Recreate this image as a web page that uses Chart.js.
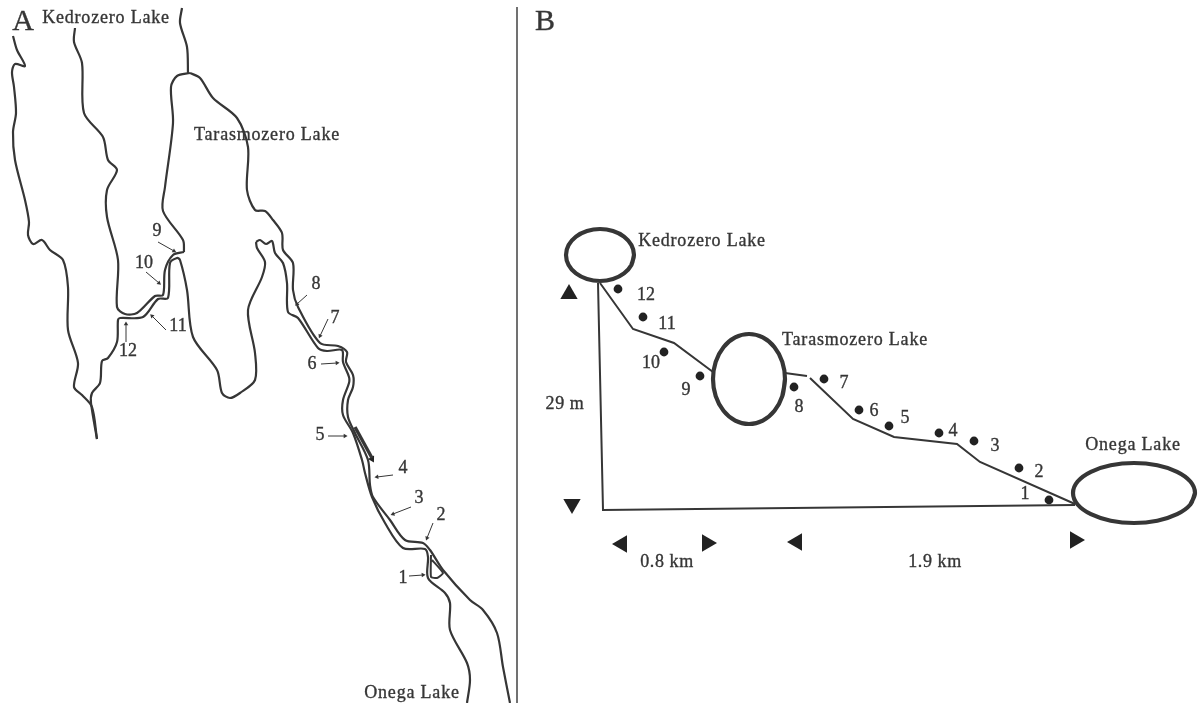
<!DOCTYPE html>
<html>
<head>
<meta charset="utf-8">
<title>Kedrozero - Onega</title>
<script src="https://cdn.jsdelivr.net/npm/chart.js@4/dist/chart.umd.min.js"></script>
<style>
  html, body { margin: 0; padding: 0; background: #fff; }
  canvas { display: block; }
</style>
</head>
<body>
<canvas id="map" width="1200" height="703"></canvas>
<script>
// all points are [x, y] in the 1200 x 703 picture units of the two hidden axes

// panel A: river banks and lake shores
const farLeftBank = [[13,36],[17,50],[25,66],[15,64],[12,72],[14,87],[16,113],[13,132],[15,160],[25,200],[29,222],[28,235],[33,244],[42,240],[50,250],[63,260],[68,287],[68,330],[78,363],[74,387],[82,395],[92,407],[97,439]];
const kedroBank = [[75,28],[74,42],[82,63],[84,113],[103,137],[108,160],[117,170],[107,190],[107,217],[118,260],[117,307],[125,314],[137,313],[155,296],[163,295],[165,270],[173,255],[184,252]];
const inletTop = [[182,8],[180,23],[187,47],[188,73]];
const taraWest = [[190,73],[177,76],[171,87],[173,123],[165,187],[163,211],[183,240],[184,252]];
const taraEast = [[190,73],[200,78],[213,98],[237,118],[248,147],[247,190],[255,210],[265,211],[273,220],[282,233],[283,250],[293,263],[293,290],[298,307],[320,343],[338,346],[347,352],[346,362],[353,375],[353,387],[348,400],[348,417],[355,433],[368,460],[370,485],[373,497],[390,520],[405,540],[423,543],[430,550],[443,570],[470,600],[483,610],[497,633],[503,667],[510,703]];
const riverInner = [[256,242],[260,240],[266,244],[272,241],[275,253],[283,263],[287,283],[288,312],[298,318],[318,348],[327,351],[342,350],[343,362],[349,377],[349,383],[343,400],[343,415],[353,433],[362,460],[365,473],[372,497],[385,523],[403,548],[425,549],[428,557],[428,578],[445,593],[450,603],[450,630],[467,663],[470,680],[467,703]];
const lobeShore = [[256,242],[257,248],[265,262],[262,277],[248,310],[255,353],[255,380],[240,393],[230,398],[222,393],[217,370],[193,337],[187,290],[180,260],[177,258],[170,263],[168,298],[158,299],[143,317],[120,318],[118,320],[117,342],[108,358],[102,361],[100,383],[92,393],[91,403],[97,439]];
const mouthLoop = [[431,555],[431,577],[437,578],[443,573],[432,560]];
const flowShaft = [[355,427],[372,458]];
const mapDivider = [[517,7],[517,703]];

// panel A: station arrows, tail then head
const stationArrows = [
  [[158,242],[174,251]], [[146,272],[159,283]], [[166,330],[152,316]], [[126,342],[126,324]],
  [[307,295],[297,304]], [[328,319],[320,336]], [[321,364],[337,363]], [[328,436],[345,436]],
  [[393,475],[377,477]], [[411,507],[393,514]], [[433,523],[427,538]], [[409,576],[423,575]]
];

// panel B: lakes, profile, stations
const lakeKedrozero = [[634,255],[631.4,264.9],[624,273.4],[613,279],[600,281],[587,279],[576,273.4],[568.6,264.9],[566,255],[568.6,245.1],[576,236.6],[587,231],[600,229],[613,231],[624,236.6],[631.4,245.1],[634,255],[631.4,264.9]];
const lakeTarasmozero = [[785,379],[782.3,396.2],[774.5,410.8],[762.8,420.6],[749,424],[735.2,420.6],[723.5,410.8],[715.7,396.2],[713,379],[715.7,361.8],[723.5,347.2],[735.2,337.4],[749,334],[762.8,337.4],[774.5,347.2],[782.3,361.8],[785,379],[782.3,396.2]];
const lakeOnega = [[1195,493],[1190.4,504.5],[1177.1,514.2],[1157.3,520.7],[1134,523],[1110.7,520.7],[1090.9,514.2],[1077.6,504.5],[1073,493],[1077.6,481.5],[1090.9,471.8],[1110.7,465.3],[1134,463],[1157.3,465.3],[1177.1,471.8],[1190.4,481.5],[1195,493],[1190.4,504.5]];
const baseLine = [[598,283],[603,510],[1075,505]];
const profileUpper = [[600,283],[633,329],[674,343],[713,372]];
const profileMiddle = [[785,373],[807,376]];
const profileLower = [[810,378],[853,419],[894,437],[957,444],[980,462],[1075,504]];
const stationDots = [[1049,500],[1019,468],[974,441],[939,433],[889,426],[859,410],[824,379],[794,387],[700,376],[664,352],[643,317],[618,289]];
const scaleMarkers = [[569,294],[572,504],[622,544],[707,543],[797,542],[1075,540]];
const scaleMarkerTurns = [0,180,270,90,270,90];

// texts
const panelLetters = [['A',23,22],['B',545,22]];
const lakeNames = [
  ['Kedrozero Lake',106,18],['Tarasmozero Lake',267,135],['Onega Lake',412,693],
  ['Kedrozero Lake',702,241],['Tarasmozero Lake',855,340],['Onega Lake',1133,445]
];
const distanceLabels = [['29 m',565,404],['0.8 km',667,562],['1.9 km',935,562]];
const stationLabelsA = [['1',403,578],['2',441,515],['3',419,498],['4',403,468],['5',320,435],['6',312,364],['7',335,318],['8',316,284],['9',157,231],['10',144,263],['11',178,326],['12',128,351]];
const stationLabelsB = [['1',1025,494],['2',1039,472],['3',995,446],['4',953,431],['5',905,418],['6',874,411],['7',844,383],['8',799,407],['9',686,390],['10',651,363],['11',667,324],['12',646,295]];

const INK = '#363636';
const toPts = arr => arr.map(p => ({ x: p[0], y: p[1] }));

function lineSet(arr, width, tension) {
  return {
    data: toPts(arr),
    showLine: true,
    borderColor: INK,
    borderWidth: width,
    tension: tension,
    pointRadius: 0,
    fill: false
  };
}

const datasets = [];
[farLeftBank, kedroBank, inletTop, taraWest, taraEast, riverInner, lobeShore].forEach(a => {
  datasets.push(lineSet(a, 2.2, 0.3));
});
datasets.push(lineSet(mouthLoop, 2, 0.15));
datasets.push(lineSet(flowShaft, 3.4, 0));
datasets.push(lineSet(mapDivider, 1.4, 0));
[lakeKedrozero, lakeTarasmozero, lakeOnega].forEach(a => datasets.push(lineSet(a, 4.2, 0.33)));
[baseLine, profileUpper, profileMiddle, profileLower].forEach(a => datasets.push(lineSet(a, 2, 0)));

stationArrows.forEach(a => {
  const turn = Math.atan2(a[1][0] - a[0][0], a[0][1] - a[1][1]) * 180 / Math.PI;
  datasets.push({
    data: toPts(a),
    showLine: true,
    borderColor: INK,
    borderWidth: 1,
    pointRadius: [0, 2.6],
    pointStyle: 'triangle',
    pointRotation: [0, turn],
    pointBackgroundColor: INK,
    pointBorderColor: INK,
    pointBorderWidth: 0
  });
});

// flow arrow head
datasets.push({
  data: toPts([[372,459]]),
  pointStyle: 'triangle',
  pointRadius: 4,
  pointRotation: 151,
  pointBackgroundColor: '#222',
  pointBorderWidth: 0
});

datasets.push({
  data: toPts(stationDots),
  pointStyle: 'circle',
  pointRadius: 4.4,
  pointBackgroundColor: '#222',
  pointBorderWidth: 0
});

datasets.push({
  data: toPts(scaleMarkers),
  pointStyle: 'triangle',
  pointRadius: 10,
  pointRotation: scaleMarkerTurns,
  pointBackgroundColor: '#222',
  pointBorderWidth: 0
});

// Chart.js has no free text, so labels go through the same scales here
const mapLabels = {
  id: 'mapLabels',
  afterDatasetsDraw(chart) {
    const { ctx, scales } = chart;
    const put = (rows, font, spacing) => {
      ctx.font = font;
      ctx.letterSpacing = spacing;
      rows.forEach(r => {
        const x = scales.x.getPixelForValue(r[1]);
        const y = scales.y.getPixelForValue(r[2]);
        ctx.fillText(r[0], x, y);
        ctx.strokeText(r[0], x, y); // the scan has heavier type
      });
    };
    ctx.save();
    ctx.fillStyle = INK;
    ctx.strokeStyle = INK;
    ctx.lineWidth = 0.35;
    ctx.textAlign = 'center';
    ctx.textBaseline = 'middle';
    put(panelLetters, '30px "Liberation Serif"', '0px');
    put(lakeNames, '18px "Liberation Serif"', '0.8px');
    put(distanceLabels, '18px "Liberation Serif"', '0.6px');
    put(stationLabelsA, '18px "Liberation Serif"', '0px');
    put(stationLabelsB, '18px "Liberation Serif"', '0px');
    ctx.restore();
  }
};

new Chart(document.getElementById('map').getContext('2d'), {
  type: 'scatter',
  data: { datasets: datasets },
  options: {
    responsive: false,
    animation: false,
    layout: { padding: 0, autoPadding: false },
    plugins: { legend: { display: false }, tooltip: { enabled: false } },
    scales: {
      x: { type: 'linear', min: 0, max: 1200, display: false },
      y: { type: 'linear', min: 0, max: 703, reverse: true, display: false }
    }
  },
  plugins: [mapLabels]
});
</script>
</body>
</html>
